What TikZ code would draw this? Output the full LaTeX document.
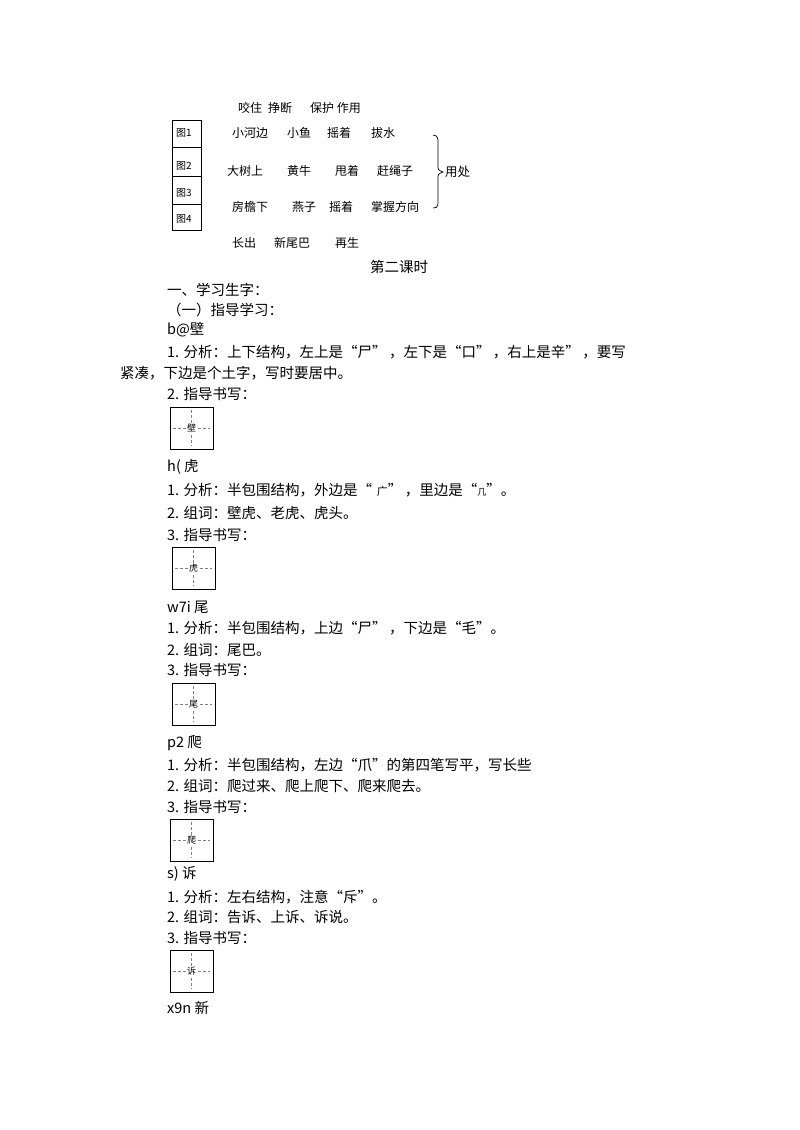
\documentclass[tikz,border=0pt]{standalone}
\usepackage{fontspec}
\setmainfont{Noto Sans CJK SC}
\begin{document}
\begin{tikzpicture}[x=1pt,y=-1pt,
 t/.style={anchor=west,inner sep=0pt,font=\fontsize{14.5}{16}\selectfont},
 s/.style={anchor=west,inner sep=0pt,font=\fontsize{12}{13}\selectfont},
 g/.style={draw,line width=0.6pt}]
\useasboundingbox[fill=white] (0,0) rectangle (800,1130);
% top table
\node[s] (r0) at (238,108) {咬住\enspace 挣断\quad\enspace 保护 作用};
\foreach \x/\w in {232/小河边,287/小鱼,327/摇着,371/拔水}{\node[s] at (\x,133) {\w};}
\foreach \x/\w in {227/大树上,287/黄牛,335/甩着,377/赶绳子}{\node[s] at (\x,171) {\w};}
\foreach \x/\w in {232/房檐下,292/燕子,329/摇着,371/掌握方向}{\node[s] at (\x,207) {\w};}
\foreach \x/\w in {232/长出,274/新尾巴,335/再生}{\node[s] at (\x,243) {\w};}
\draw[g] (172,120) rectangle (201,230);
\foreach \y in {147,176,204}{\draw[g] (172,\y) -- (201,\y);}
\foreach \y/\w in {133/图1,166/图2,193/图3,219/图4}{\node[s,font=\fontsize{10}{11}\selectfont] at (176,\y) {\w};}
\draw[line width=0.7pt] (433,135) .. controls (439,135) and (438,140) .. (438,150) -- (438,165) .. controls (438,170) .. (443,172) .. controls (438,174) .. (438,179) -- (438,196) .. controls (438,205) and (439,208) .. (433,208);
\node[s,font=\fontsize{12.5}{13}\selectfont] (yc) at (445,172) {用处};
\node[t,anchor=center] (title) at (399,267) {第二课时};
% body
\node[t] at (167,290) {一、学习生字：};
\node[t] at (167,310) {（一）指导学习：};
\node[t] at (167,330) {b@壁};
\node[t] at (167,352) {1. 分析：上下结构，左上是“尸”\,，左下是“口”\,，右上是辛”\,，要写};
\node[t] at (120,373) {紧凑，下边是个土字，写时要居中。};
\node[t] at (167,394) {2. 指导书写：};
\newcommand\gbox[3]{%
 \draw[g] (#1,#2) rectangle (#1+43,#2+42);
 \draw[densely dashed,line width=0.4pt,gray] (#1+21.5,#2+3) -- (#1+21.5,#2+39) (#1+3,#2+21) -- (#1+40,#2+21);
 \node[fill=white,inner sep=1pt,font=\fontsize{9}{10}\selectfont] at (#1+21.5,#2+21) {#3};}
\gbox{170}{407}{壁}
\node[t] at (167,467) {h( 虎};
\node[t] at (167,490) {1. 分析：半包围结构，外边是“\,\,{\fontsize{11}{12}\selectfont 广}”\,，里边是“{\fontsize{9}{10}\selectfont 几}”。};
\node[t] at (167,513) {2. 组词：壁虎、老虎、虎头。};
\node[t] at (167,535) {3. 指导书写：};
\gbox{172}{547}{虎}
\node[t] at (167,607) {w7i 尾};
\node[t] at (167,628) {1. 分析：半包围结构，上边“尸”\,，下边是“毛”。};
\node[t] at (167,650) {2. 组词：尾巴。};
\node[t] at (167,670) {3. 指导书写：};
\gbox{172}{683}{尾}
\node[t] at (167,743) {p2 爬};
\node[t] at (167,765) {1. 分析：半包围结构，左边“爪”的第四笔写平，写长些};
\node[t] at (167,786) {2. 组词：爬过来、爬上爬下、爬来爬去。};
\node[t] at (167,807) {3. 指导书写：};
\gbox{170}{819}{爬}
\node[t] at (167,874) {s) 诉};
\node[t] at (167,897) {1. 分析：左右结构，注意“斥”。};
\node[t] at (167,917) {2. 组词：告诉、上诉、诉说。};
\node[t] at (167,938) {3. 指导书写：};
\gbox{170}{950}{诉}
\node[t] at (167,1008) {x9n 新};
\end{tikzpicture}
\end{document}
